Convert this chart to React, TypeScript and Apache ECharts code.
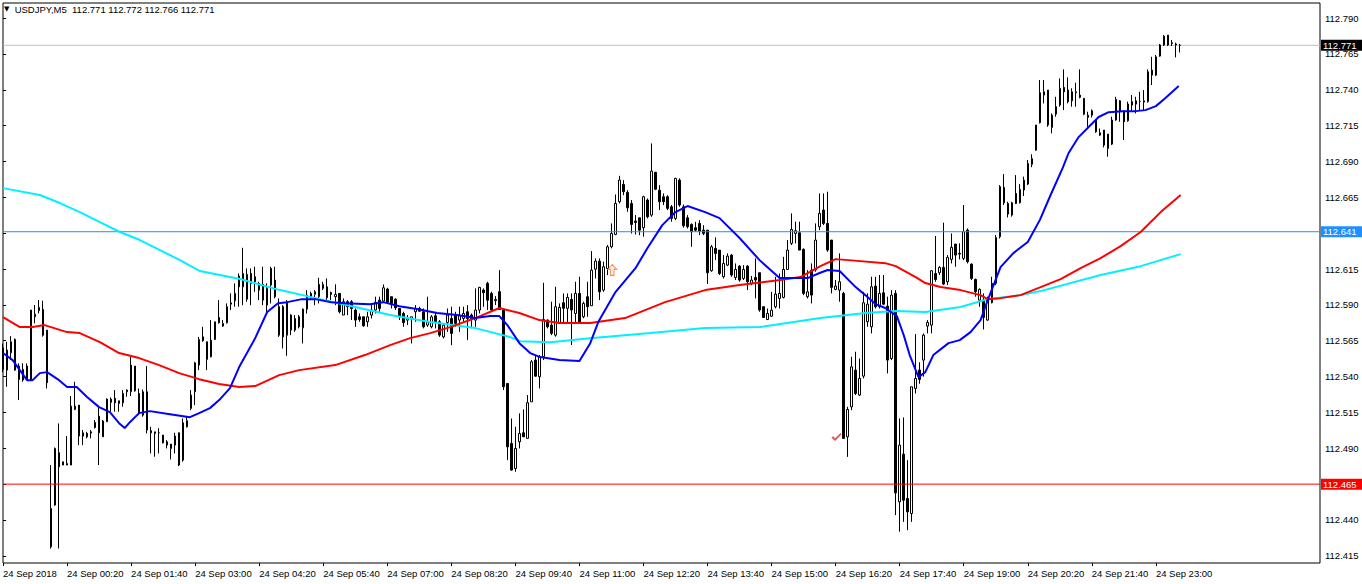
import React, { useEffect, useRef } from 'react';
import * as echarts from 'echarts';

const FONT = '"Liberation Sans", Arial, sans-serif';
const titleText = 'USDJPY,M5  112.771 112.772 112.766 112.771';
const TOTAL_SLOTS = 330; // bar slots across the chart (chart shift leaves the right part empty)
const LABEL_STEP = 16;

const timeLabels = [
  '24 Sep 2018', '24 Sep 00:20', '24 Sep 01:40', '24 Sep 03:00', '24 Sep 04:20', '24 Sep 05:40',
  '24 Sep 07:00', '24 Sep 08:20', '24 Sep 09:40', '24 Sep 11:00', '24 Sep 12:20', '24 Sep 13:40',
  '24 Sep 15:00', '24 Sep 16:20', '24 Sep 17:40', '24 Sep 19:00', '24 Sep 20:20', '24 Sep 21:40',
  '24 Sep 23:00',
];

const priceTicks = [
  112.415, 112.44, 112.465, 112.49, 112.515, 112.54, 112.565, 112.59, 112.615, 112.64,
  112.665, 112.69, 112.715, 112.74, 112.765, 112.79,
];
// labels hidden behind the level badges in the reference
const hiddenTickLabels = [112.465, 112.64];

// [open, high, low, close]
const candles: [number, number, number, number][] = [
  [112.560, 112.563, 112.543, 112.545], [112.5445, 112.5643, 112.5329, 112.5585], [112.5566, 112.5682, 112.5515, 112.5643], [112.5659, 112.5666, 112.5440, 112.5445], [112.5473, 112.5492, 112.5236, 112.5380],
  [112.5376, 112.5492, 112.5364, 112.5450], [112.5473, 112.5492, 112.5376, 112.5380], [112.5376, 112.5864, 112.5376, 112.5864], [112.5817, 112.5899, 112.5771, 112.5834], [112.5859, 112.5934, 112.5841, 112.5882],
  [112.5868, 112.5929, 112.5678, 112.5689], [112.5724, 112.5724, 112.5317, 112.5357], [112.4213, 112.4783, 112.4201, 112.4480], [112.4504, 112.4905, 112.4500, 112.4899], [112.4869, 112.5073, 112.4201, 112.4771],
  [112.4783, 112.4806, 112.4783, 112.4806], [112.4783, 112.4985, 112.4783, 112.4794], [112.4783, 112.5264, 112.4783, 112.5194], [112.5171, 112.5364, 112.5166, 112.5194], [112.5201, 112.5201, 112.4922, 112.4985],
  [112.4985, 112.5027, 112.4922, 112.5008], [112.5004, 112.5015, 112.4969, 112.4980], [112.5006, 112.5027, 112.4969, 112.5015], [112.5080, 112.5097, 112.5038, 112.5045], [112.5124, 112.5194, 112.4783, 112.5008],
  [112.4980, 112.5097, 112.4980, 112.5090], [112.5085, 112.5248, 112.5085, 112.5243], [112.5220, 112.5255, 112.5155, 112.5243], [112.5248, 112.5306, 112.5155, 112.5217], [112.5231, 112.5231, 112.5155, 112.5213],
  [112.5217, 112.5306, 112.5190, 112.5283], [112.5294, 112.5310, 112.5259, 112.5306], [112.5294, 112.5538, 112.5264, 112.5480], [112.5473, 112.5473, 112.5294, 112.5301], [112.5282, 112.5317, 112.5131, 112.5143],
  [112.5131, 112.5310, 112.5120, 112.5294], [112.5294, 112.5473, 112.5003, 112.5027], [112.5022, 112.5050, 112.4864, 112.5008], [112.5003, 112.5015, 112.4841, 112.5015], [112.5008, 112.5040, 112.4864, 112.5008],
  [112.4992, 112.4992, 112.4934, 112.4938], [112.4945, 112.4957, 112.4899, 112.4922], [112.4929, 112.4929, 112.4822, 112.4899], [112.4922, 112.5008, 112.4864, 112.4985], [112.5008, 112.5008, 112.4776, 112.4783],
  [112.4817, 112.5108, 112.4806, 112.5078], [112.5092, 112.5120, 112.5045, 112.5050], [112.5178, 112.5306, 112.5166, 112.5271], [112.5294, 112.5503, 112.5201, 112.5496], [112.5480, 112.5677, 112.5445, 112.5659],
  [112.5677, 112.5747, 112.5643, 112.5650], [112.5643, 112.5643, 112.5445, 112.5520], [112.5538, 112.5794, 112.5534, 112.5654], [112.5659, 112.5782, 112.5654, 112.5782], [112.5812, 112.5933, 112.5770, 112.5775],
  [112.5770, 112.5794, 112.5747, 112.5752], [112.5775, 112.5910, 112.5770, 112.5887], [112.5905, 112.5980, 112.5864, 112.5914], [112.5929, 112.6050, 112.5887, 112.5980], [112.6026, 112.6119, 112.5887, 112.6101],
  [112.6026, 112.6298, 112.5898, 112.6119], [112.6112, 112.6154, 112.5922, 112.5940], [112.6119, 112.6154, 112.5898, 112.6050], [112.6096, 112.6166, 112.5991, 112.6061], [112.6050, 112.6061, 112.5933, 112.6003],
  [112.5933, 112.6166, 112.5898, 112.6043], [112.5898, 112.6050, 112.5829, 112.6015], [112.6154, 112.6166, 112.5910, 112.6038], [112.6073, 112.6166, 112.5945, 112.5957], [112.5887, 112.5945, 112.5677, 112.5689],
  [112.5887, 112.5898, 112.5596, 112.5677], [112.5922, 112.5933, 112.5545, 112.5689], [112.5724, 112.5834, 112.5689, 112.5829], [112.5724, 112.5829, 112.5712, 112.5805], [112.5817, 112.5829, 112.5736, 112.5747],
  [112.5740, 112.5875, 112.5631, 112.5870], [112.5870, 112.6003, 112.5840, 112.5968], [112.5957, 112.5992, 112.5933, 112.5980], [112.5973, 112.6003, 112.5898, 112.5992], [112.5957, 112.6089, 112.5910, 112.6043],
  [112.6015, 112.6061, 112.6003, 112.6043], [112.6026, 112.6084, 112.5933, 112.5950], [112.5987, 112.5992, 112.5933, 112.5973], [112.5957, 112.6043, 112.5898, 112.5973], [112.5980, 112.5980, 112.5840, 112.5852],
  [112.5829, 112.5945, 112.5829, 112.5922], [112.5922, 112.5933, 112.5829, 112.5887], [112.5922, 112.5933, 112.5794, 112.5875], [112.5864, 112.5875, 112.5747, 112.5794], [112.5817, 112.5840, 112.5782, 112.5798],
  [112.5817, 112.5817, 112.5747, 112.5754], [112.5782, 112.5852, 112.5747, 112.5817], [112.5829, 112.5898, 112.5805, 112.5864], [112.5864, 112.5957, 112.5840, 112.5917], [112.5933, 112.5957, 112.5852, 112.5875],
  [112.5926, 112.6043, 112.5917, 112.6019], [112.6010, 112.6019, 112.5910, 112.5917], [112.5957, 112.5957, 112.5875, 112.5910], [112.5940, 112.5945, 112.5864, 112.5880], [112.5875, 112.5875, 112.5794, 112.5817],
  [112.5840, 112.5852, 112.5747, 112.5777], [112.5794, 112.5829, 112.5759, 112.5805], [112.5801, 112.5817, 112.5631, 112.5817], [112.5852, 112.5898, 112.5782, 112.5875], [112.5875, 112.5887, 112.5852, 112.5856],
  [112.5852, 112.5875, 112.5736, 112.5747], [112.5759, 112.5957, 112.5747, 112.5782], [112.5747, 112.5829, 112.5736, 112.5817], [112.5824, 112.5852, 112.5736, 112.5782], [112.5782, 112.5794, 112.5677, 112.5689],
  [112.5677, 112.5770, 112.5666, 112.5759], [112.5777, 112.5875, 112.5712, 112.5829], [112.5805, 112.5887, 112.5619, 112.5701], [112.5829, 112.5852, 112.5747, 112.5771], [112.5794, 112.5887, 112.5712, 112.5829],
  [112.5805, 112.5887, 112.5782, 112.5840], [112.5852, 112.5898, 112.5654, 112.5805], [112.5829, 112.5840, 112.5736, 112.5805], [112.5794, 112.6015, 112.5747, 112.5864], [112.5864, 112.6026, 112.5840, 112.6022],
  [112.6003, 112.6015, 112.5887, 112.5985], [112.6050, 112.6061, 112.5864, 112.5933], [112.5980, 112.5992, 112.5852, 112.5864], [112.5929, 112.5961, 112.5899, 112.5938], [112.5992, 112.6142, 112.5864, 112.5868],
  [112.5864, 112.5864, 112.5306, 112.5329], [112.5352, 112.5352, 112.4817, 112.4910], [112.4934, 112.5108, 112.4743, 112.4748], [112.4759, 112.5050, 112.4736, 112.4899], [112.4945, 112.5143, 112.4899, 112.5003],
  [112.5008, 112.5171, 112.4980, 112.4980], [112.4969, 112.5271, 112.4969, 112.5218], [112.5224, 112.5515, 112.5224, 112.5503], [112.5515, 112.5550, 112.5399, 112.5403], [112.5399, 112.5550, 112.5317, 112.5538],
  [112.5538, 112.6054, 112.5515, 112.5798], [112.5794, 112.5798, 112.5736, 112.5747], [112.5759, 112.5922, 112.5689, 112.5701], [112.5689, 112.6026, 112.5678, 112.5887], [112.5771, 112.5910, 112.5766, 112.5882],
  [112.5915, 112.5980, 112.5771, 112.5876], [112.5876, 112.5980, 112.5771, 112.5952], [112.5938, 112.5980, 112.5620, 112.5864], [112.5840, 112.6061, 112.5771, 112.5980], [112.5980, 112.6096, 112.5771, 112.5775],
  [112.5817, 112.5922, 112.5806, 112.5910], [112.5957, 112.6061, 112.5817, 112.5887], [112.5894, 112.6275, 112.5894, 112.6142], [112.6149, 112.6224, 112.6084, 112.6205], [112.6205, 112.6224, 112.5933, 112.5991],
  [112.6003, 112.6201, 112.5991, 112.6166], [112.6154, 112.6317, 112.6108, 112.6305], [112.6305, 112.6468, 112.6294, 112.6398], [112.6391, 112.6670, 112.6386, 112.6607], [112.6619, 112.6800, 112.6607, 112.6770],
  [112.6740, 112.6770, 112.6665, 112.6689], [112.6684, 112.6700, 112.6549, 112.6577], [112.6607, 112.6631, 112.6398, 112.6461], [112.6484, 112.6526, 112.6391, 112.6475], [112.6507, 112.6507, 112.6386, 112.6421],
  [112.6438, 112.6661, 112.6375, 112.6654], [112.6631, 112.6642, 112.6503, 112.6514], [112.6526, 112.7026, 112.6514, 112.6833], [112.6824, 112.6828, 112.6700, 112.6707], [112.6700, 112.6735, 112.6561, 112.6619],
  [112.6654, 112.6677, 112.6596, 112.6619], [112.6654, 112.6665, 112.6561, 112.6573], [112.6584, 112.6596, 112.6480, 112.6503], [112.6503, 112.6786, 112.6491, 112.6782], [112.6770, 112.6782, 112.6584, 112.6596],
  [112.6584, 112.6600, 112.6438, 112.6452], [112.6507, 112.6526, 112.6433, 112.6445], [112.6461, 112.6468, 112.6305, 112.6410], [112.6438, 112.6479, 112.6410, 112.6421], [112.6468, 112.6491, 112.6386, 112.6414],
  [112.6421, 112.6456, 112.6386, 112.6398], [112.6421, 112.6421, 112.6045, 112.6124], [112.6138, 112.6317, 112.6131, 112.6305], [112.6294, 112.6370, 112.6212, 112.6259], [112.6282, 112.6282, 112.6108, 112.6119],
  [112.6096, 112.6247, 112.6084, 112.6189], [112.6177, 112.6259, 112.6170, 112.6240], [112.6247, 112.6254, 112.6096, 112.6108], [112.6091, 112.6189, 112.6073, 112.6147], [112.6170, 112.6177, 112.6061, 112.6073],
  [112.6084, 112.6177, 112.6073, 112.6147], [112.6170, 112.6177, 112.6003, 112.6061], [112.6050, 112.6101, 112.6038, 112.6073], [112.6091, 112.6224, 112.5945, 112.6073], [112.6124, 112.6124, 112.5852, 112.5864],
  [112.5887, 112.5891, 112.5812, 112.5812], [112.5798, 112.5875, 112.5794, 112.5840], [112.5821, 112.5991, 112.5817, 112.5863], [112.5887, 112.6096, 112.5875, 112.5975], [112.5945, 112.6119, 112.5875, 112.5980],
  [112.5952, 112.6235, 112.5945, 112.6147], [112.6147, 112.6352, 112.6143, 112.6282], [112.6329, 112.6538, 112.6317, 112.6426], [112.6398, 112.6480, 112.6329, 112.6417], [112.6403, 112.6480, 112.6282, 112.6282],
  [112.6287, 112.6294, 112.5968, 112.5980], [112.5957, 112.6142, 112.5945, 112.5991], [112.6142, 112.6189, 112.5910, 112.5968], [112.6143, 112.6468, 112.6131, 112.6352], [112.6445, 112.6677, 112.6421, 112.6538],
  [112.6561, 112.6677, 112.6456, 112.6468], [112.6468, 112.6689, 112.6270, 112.6282], [112.6352, 112.6352, 112.5980, 112.6022], [112.6008, 112.6073, 112.6003, 112.6031], [112.6003, 112.6259, 112.5922, 112.6061],
  [112.5980, 112.5991, 112.4969, 112.4969], [112.4980, 112.5189, 112.4840, 112.5171], [112.5189, 112.5538, 112.5166, 112.5468], [112.5445, 112.5573, 112.5271, 112.5282], [112.5271, 112.5526, 112.5264, 112.5387],
  [112.5403, 112.5991, 112.5387, 112.5915], [112.5782, 112.5980, 112.5747, 112.5905], [112.5747, 112.6096, 112.5701, 112.6026], [112.6031, 112.6096, 112.5875, 112.5887], [112.5887, 112.6108, 112.5875, 112.5980],
  [112.5984, 112.6108, 112.5898, 112.5905], [112.5891, 112.5957, 112.5422, 112.5515], [112.5526, 112.6003, 112.5515, 112.5968], [112.5980, 112.6003, 112.4434, 112.4589], [112.4527, 112.5108, 112.4318, 112.4922],
  [112.4859, 112.5115, 112.4387, 112.4538], [112.4550, 112.4817, 112.4329, 112.4457], [112.4445, 112.5329, 112.4387, 112.5329], [112.5317, 112.5696, 112.5282, 112.5387], [112.5445, 112.5500, 112.5350, 112.5380],
  [112.5515, 112.5701, 112.5400, 112.5689], [112.5752, 112.5794, 112.5701, 112.5777], [112.5759, 112.6142, 112.5701, 112.6138], [112.6119, 112.6380, 112.6061, 112.6077], [112.6124, 112.6170, 112.6108, 112.6161],
  [112.6161, 112.6473, 112.6038, 112.6045], [112.6061, 112.6247, 112.6038, 112.6231], [112.6217, 112.6398, 112.6189, 112.6301], [112.6324, 112.6324, 112.6166, 112.6247], [112.6259, 112.6329, 112.6217, 112.6254],
  [112.6224, 112.6596, 112.6212, 112.6410], [112.6422, 112.6433, 112.6189, 112.6201], [112.6184, 112.6189, 112.6073, 112.6084], [112.6077, 112.6084, 112.5957, 112.5992], [112.5933, 112.6015, 112.5887, 112.6008],
  [112.5933, 112.5980, 112.5729, 112.5812], [112.5794, 112.5957, 112.5789, 112.5938], [112.5915, 112.6096, 112.5910, 112.6050], [112.6050, 112.6387, 112.6038, 112.6370], [112.6375, 112.6735, 112.6363, 112.6724],
  [112.6719, 112.6812, 112.6596, 112.6612], [112.6607, 112.6619, 112.6510, 112.6533], [112.6526, 112.6619, 112.6515, 112.6612], [112.6677, 112.6805, 112.6603, 112.6607], [112.6612, 112.6742, 112.6607, 112.6705],
  [112.6701, 112.6794, 112.6659, 112.6770], [112.6742, 112.6910, 112.6735, 112.6886], [112.6880, 112.6950, 112.6860, 112.6920], [112.6979, 112.7154, 112.6974, 112.7154], [112.7170, 112.7468, 112.7165, 112.7379],
  [112.7363, 112.7468, 112.7305, 112.7386], [112.7398, 112.7398, 112.7142, 112.7154], [112.7137, 112.7235, 112.7096, 112.7223], [112.7230, 112.7351, 112.7212, 112.7282], [112.7293, 112.7479, 112.7282, 112.7410],
  [112.7416, 112.7542, 112.7258, 112.7386], [112.7398, 112.7486, 112.7305, 112.7317], [112.7323, 112.7410, 112.7282, 112.7386], [112.7379, 112.7449, 112.7282, 112.7386], [112.7347, 112.7542, 112.7340, 112.7363],
  [112.7340, 112.7340, 112.7223, 112.7230], [112.7207, 112.7247, 112.7142, 112.7223], [112.7223, 112.7263, 112.7207, 112.7254], [112.7189, 112.7193, 112.7100, 112.7107], [112.7100, 112.7130, 112.7077, 112.7084],
  [112.7119, 112.7119, 112.6998, 112.7014], [112.7091, 112.7091, 112.6933, 112.6991], [112.7021, 112.7212, 112.7014, 112.7189], [112.7189, 112.7351, 112.7184, 112.7333], [112.7323, 112.7328, 112.7177, 112.7247],
  [112.7247, 112.7258, 112.7049, 112.7177], [112.7184, 112.7317, 112.7177, 112.7300], [112.7293, 112.7363, 112.7247, 112.7317], [112.7300, 112.7351, 112.7235, 112.7323], [112.7319, 112.7386, 112.7258, 112.7319],
  [112.7314, 112.7398, 112.7258, 112.7323], [112.7317, 112.7542, 112.7310, 112.7526], [112.7502, 112.7630, 112.7433, 112.7537], [112.7502, 112.7642, 112.7495, 112.7630], [112.7635, 112.7719, 112.7630, 112.7712],
  [112.7712, 112.7781, 112.7705, 112.7774], [112.7781, 112.7781, 112.7705, 112.7712], [112.7728, 112.7747, 112.7705, 112.7723], [112.7719, 112.7728, 112.7626, 112.7712], [112.771, 112.772, 112.766, 112.771],
];

// moving averages, [bar index, price]
const maFast: [number, number][] = [
  [0, 112.5564], [2.4, 112.5515], [4.2, 112.5445], [6, 112.5375], [7.4, 112.5375], [9.2, 112.5424], [11, 112.5431], [14, 112.5375],
  [16, 112.5327], [18.4, 112.5327], [21, 112.5257], [24, 112.5187], [26.7, 112.5152], [29, 112.5075], [30.4, 112.5041], [31.7, 112.5082],
  [34, 112.5145], [36.7, 112.5159], [41.7, 112.5138], [46.7, 112.5117], [49, 112.5145], [51.7, 112.5180], [54, 112.5236], [56.7, 112.5320],
  [59, 112.5466], [63, 112.5668], [66, 112.5850], [68.7, 112.5912], [71, 112.5919], [74.7, 112.5940], [78, 112.5940], [82, 112.5919],
  [85.4, 112.5912], [91.7, 112.5905], [95, 112.5919], [99, 112.5891], [103.4, 112.5871], [108.4, 112.5843], [113.4, 112.5829], [118, 112.5808],
  [121.7, 112.5822], [124, 112.5822], [126, 112.5759], [129, 112.5633], [131.7, 112.5564], [134.2, 112.5536], [139, 112.5515], [144, 112.5508],
  [146.7, 112.5633], [148.7, 112.5780], [153, 112.5989], [158, 112.6156], [161, 112.6296], [164.7, 112.6456], [168, 112.6547], [171, 112.6589],
  [175.4, 112.6547], [179, 112.6505], [184, 112.6366], [189, 112.6212], [194, 112.6087], [197.4, 112.6087], [201, 112.6087], [204, 112.6122],
  [206, 112.6143], [209, 112.6136], [213, 112.6024], [215.4, 112.5968], [218, 112.5905], [220.4, 112.5878], [223.3, 112.5822], [225, 112.5690],
  [226.5, 112.5550], [228.7, 112.5396], [230.4, 112.5431], [232.4, 112.5550], [236.2, 112.5633], [239, 112.5654], [241.7, 112.5710], [244.2, 112.5794],
  [246, 112.5933], [249.2, 112.6163], [252.4, 112.6261], [256, 112.6338], [259, 112.6491], [261.7, 112.6666], [264.7, 112.6854], [266.2, 112.6959],
  [268.7, 112.7070], [271.2, 112.7140], [273.7, 112.7210], [276.2, 112.7244], [279.7, 112.7251], [283, 112.7251], [285.4, 112.7258], [288, 112.7286],
  [290.4, 112.7342], [293.7, 112.7426],
];

const maMid: [number, number][] = [
  [0, 112.5815], [4.2, 112.5745], [7.4, 112.5745], [10.4, 112.5759], [16, 112.5710], [19.2, 112.5703], [24.2, 112.5640], [29, 112.5564],
  [34, 112.5529], [39, 112.5480], [44, 112.5424], [49, 112.5382], [54, 112.5348], [59, 112.5327], [63, 112.5334], [69, 112.5410],
  [74, 112.5445], [83, 112.5480], [90.4, 112.5550], [96.7, 112.5619], [101.7, 112.5668], [106.7, 112.5703], [111.7, 112.5745], [118, 112.5808],
  [124, 112.5878], [129, 112.5843], [134, 112.5794], [139, 112.5773], [146.7, 112.5773], [155.4, 112.5808], [165.4, 112.5919], [175.4, 112.6003],
  [184, 112.6038], [194.2, 112.6073], [199.2, 112.6094], [204.2, 112.6170], [208, 112.6219], [211.2, 112.6212], [220.4, 112.6191], [223, 112.6170],
  [228, 112.6094], [230.4, 112.6052], [234.2, 112.6024], [239.2, 112.6003], [244.2, 112.5968], [246, 112.5940], [249.2, 112.5947], [254.2, 112.5968],
  [259.2, 112.6024], [264.2, 112.6080], [269.2, 112.6156], [274.2, 112.6226], [279.2, 112.6310], [284.2, 112.6408], [289.2, 112.6547], [294.2, 112.6666],
];

const maSlow: [number, number][] = [
  [0, 112.6714], [9.2, 112.6666], [14.2, 112.6610], [19.2, 112.6547], [24.2, 112.6477], [29.2, 112.6408], [34.2, 112.6352], [39.2, 112.6282],
  [44.2, 112.6212], [49.2, 112.6136], [54.2, 112.6108], [59.2, 112.6080], [69.2, 112.6003], [79.2, 112.5940], [88, 112.5885], [96.7, 112.5829],
  [106.7, 112.5780], [118, 112.5738], [126.7, 112.5675], [129.2, 112.5647], [136.7, 112.5640], [141.7, 112.5654], [146.7, 112.5668], [161.7, 112.5703],
  [175.4, 112.5738], [189.2, 112.5745], [204.2, 112.5808], [215.4, 112.5843], [223, 112.5857], [230.4, 112.5850], [239.2, 112.5885], [246, 112.5940],
  [254.2, 112.5968], [259.2, 112.5996], [274.2, 112.6108], [284.2, 112.6170], [294.2, 112.6254],
];

const bidPrice = 112.771;
const levelBlue = 112.641;
const levelRed = 112.465;
const buyArrow: [number, number] = [152.2, 112.6144];
const checkMark: [number, number] = [208.2, 112.4978];

const slots = Array.from({ length: TOTAL_SLOTS }, (_, i) => String(i));
const showTimeLabel = (index: number) => index % LABEL_STEP === 0 && index / LABEL_STEP < timeLabels.length;
const labelTicks = priceTicks.filter((v) => !hiddenTickLabels.includes(v));

// horizontal price level drawn across the whole plot with a badge on the price scale
const levelSeries = (value: number, color: string, badgeBg: string, z: number) => ({
  type: 'line',
  xAxisIndex: 1,
  data: [[0, value], [TOTAL_SLOTS - 1, value]],
  showSymbol: false,
  symbol: 'none',
  silent: true,
  clip: false,
  z,
  color,
  lineStyle: { color, width: 1, type: 'solid' },
  emphasis: { disabled: true },
  endLabel: {
    show: true,
    distance: 1,
    formatter: () => value.toFixed(3),
    color: '#ffffff',
    backgroundColor: badgeBg,
    padding: [1, 8, 0, 2],
    fontSize: 9.5,
    lineHeight: 10,
    fontFamily: FONT,
  },
});

export default function App() {
  const ref = useRef<HTMLDivElement>(null);
  useEffect(() => {
    if (!ref.current) return;
    const chart = echarts.init(ref.current, undefined, { renderer: 'svg' });
    chart.setOption({
      animation: false,
      backgroundColor: '#ffffff',
      textStyle: { fontFamily: FONT },
      title: {
        text: '{t|▼}  ' + titleText,
        left: 4,
        top: 4,
        padding: 0,
        textStyle: {
          fontSize: 9.5,
          fontWeight: 'normal',
          color: '#000',
          fontFamily: FONT,
          rich: { t: { fontSize: 7, color: '#000', fontFamily: '"DejaVu Sans", sans-serif' } },
        },
      },
      grid: {
        left: 3, right: 42, top: 3, bottom: 21,
        show: true, borderColor: '#000', borderWidth: 1, backgroundColor: '#fff',
      },
      xAxis: [
        {
          type: 'category',
          data: slots,
          boundaryGap: false,
          axisLine: { show: false },
          axisTick: { show: true, interval: showTimeLabel, length: 3, lineStyle: { color: '#000' } },
          axisLabel: {
            interval: showTimeLabel,
            formatter: (_v: string, idx: number) => timeLabels[idx / LABEL_STEP] ?? '',
            align: 'left',
            margin: 5,
            fontSize: 9.5,
            color: '#000',
            fontFamily: FONT,
          },
          splitLine: { show: false },
        },
        { type: 'value', min: 0, max: TOTAL_SLOTS - 1, show: false },
      ],
      yAxis: {
        type: 'value',
        position: 'right',
        min: 112.41,
        max: 112.8005,
        axisLine: { show: false },
        splitLine: { show: false },
        axisTick: { show: true, length: 3, customValues: priceTicks, lineStyle: { color: '#000' } },
        axisLabel: {
          customValues: labelTicks,
          formatter: (v: number) => v.toFixed(3),
          fontSize: 9.5,
          color: '#000',
          margin: 5,
          fontFamily: FONT,
        },
      },
      series: [
        levelSeries(bidPrice, '#c0c0c0', '#000000', 1),
        {
          type: 'candlestick',
          xAxisIndex: 0,
          silent: true,
          barWidth: 2,
          z: 2,
          data: candles.map(([o, h, l, c]) => [o, c, l, h]),
          itemStyle: {
            color: '#ffffff', color0: '#000000',
            borderColor: '#000000', borderColor0: '#000000', borderWidth: 1,
          },
        },
        levelSeries(levelBlue, '#1e90ff', '#1e90ff', 3),
        levelSeries(levelRed, '#ff0000', '#ff0000', 3),
        { type: 'line', xAxisIndex: 1, data: maSlow, showSymbol: false, silent: true, color: '#00f0ff', lineStyle: { color: '#00f0ff', width: 2 }, z: 4 },
        { type: 'line', xAxisIndex: 1, data: maMid, showSymbol: false, silent: true, color: '#ff0000', lineStyle: { color: '#ff0000', width: 2 }, z: 4 },
        { type: 'line', xAxisIndex: 1, data: maFast, showSymbol: false, silent: true, color: '#0000ff', lineStyle: { color: '#0000ff', width: 2 }, z: 4 },
        {
          type: 'scatter', xAxisIndex: 1, silent: true, z: 5,
          data: [buyArrow],
          symbol: 'path://M5,0 L10,5 L7,5 L7,11 L3,11 L3,5 L0,5 Z',
          symbolSize: [9, 11],
          itemStyle: { color: '#ffe6d8', borderColor: '#f07040', borderWidth: 1 },
        },
        {
          type: 'scatter', xAxisIndex: 1, silent: true, z: 5,
          data: [checkMark],
          symbol: 'path://M0,5 L2,3.5 L4,6 L10,0 L11,1.5 L4,9 Z',
          symbolSize: [10, 8],
          itemStyle: { color: '#e02020' },
        },
      ],
    });
    return () => chart.dispose();
  }, []);
  return <div ref={ref} style={{ position: 'fixed', left: 0, top: 0, width: 1362, height: 584, background: '#fff' }} />;
}
